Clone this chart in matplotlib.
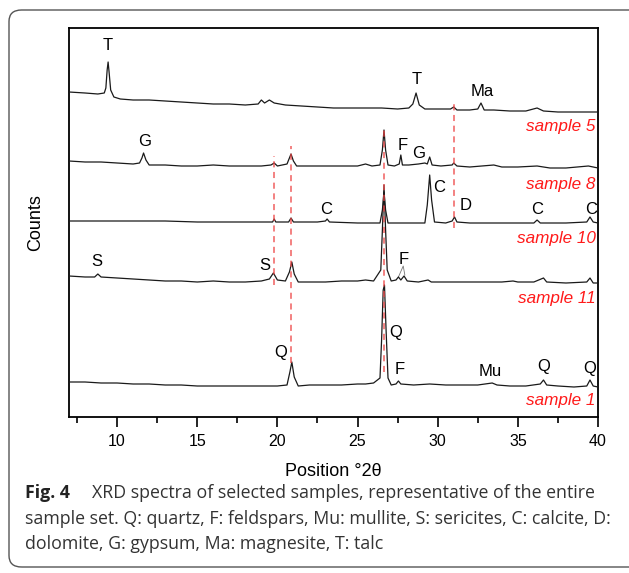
import matplotlib; matplotlib.use("Agg")
import matplotlib.pyplot as plt
from matplotlib.patches import FancyBboxPatch
from matplotlib.ticker import MultipleLocator
plt.rcParams.update({"font.family": ["Liberation Sans", "DejaVu Sans"], "font.size": 11})

# traces: 2theta vs stacked counts (arbitrary units)
s5_2theta = [7.0, 8.0, 8.8, 9.2, 9.3, 9.38, 9.44, 9.5, 9.6, 9.8, 10.2, 11, 12, 13, 14, 15, 16, 17, 18, 18.8,
             19.0, 19.2, 19.5, 19.8, 20.5, 21.5, 22.5, 23.5, 24.5, 25.5, 26.5, 27.5, 28.2, 28.45, 28.65, 28.85,
             29.2, 30, 30.8, 31.0, 31.2, 32, 32.5, 32.7, 32.9, 33.5, 34.5, 35.5, 36.2, 36.6, 37.5, 38.5, 40]
s5_counts = [3250, 3240, 3230, 3240, 3290, 3470, 3550, 3450, 3270, 3200, 3180, 3170, 3170, 3160, 3150, 3140,
             3130, 3130, 3120, 3130, 3170, 3140, 3170, 3140, 3120, 3110, 3100, 3090, 3090, 3090, 3090, 3080,
             3090, 3130, 3240, 3120, 3080, 3080, 3080, 3100, 3070, 3070, 3080, 3140, 3070, 3070, 3060, 3060,
             3090, 3060, 3050, 3050, 3050]

s8_2theta = [7, 8, 9, 10, 11, 11.4, 11.55, 11.65, 11.8, 12, 13, 14, 15, 16, 17, 18, 19, 19.6, 19.8, 20.0,
             20.6, 20.75, 20.85, 21.0, 21.2, 22, 23, 24, 25, 25.5, 25.9, 26.4, 26.55, 26.65, 26.75, 26.9, 27.3,
             27.6, 27.7, 27.8, 28.2, 28.8, 29.2, 29.35, 29.5, 29.65, 30.2, 30.9, 31.0, 31.2, 32, 33.5, 34, 35,
             36.2, 37, 38, 39.4, 40]
s8_counts = [2560, 2550, 2550, 2540, 2530, 2540, 2590, 2640, 2570, 2520, 2520, 2510, 2510, 2520, 2510, 2510,
             2510, 2520, 2540, 2510, 2530, 2590, 2630, 2560, 2510, 2510, 2510, 2510, 2510, 2530, 2510, 2520,
             2670, 2870, 2670, 2520, 2510, 2530, 2620, 2520, 2520, 2530, 2540, 2530, 2600, 2520, 2510, 2520,
             2540, 2510, 2500, 2520, 2500, 2500, 2510, 2490, 2490, 2510, 2490]

s10_2theta = [7, 9, 11, 13, 15, 17, 19, 19.7, 19.8, 19.9, 20.7, 20.85, 21.0, 22.5, 23.0, 23.1, 23.25, 25,
              26.4, 26.55, 26.65, 26.75, 26.9, 28, 29.2, 29.35, 29.5, 29.62, 29.8, 30.5, 30.9, 31.05, 31.2, 32,
              34, 36.0, 36.2, 36.4, 37, 38, 39.3, 39.5, 39.7, 40]
s10_counts = [1960, 1960, 1960, 1960, 1950, 1950, 1950, 1950, 1980, 1950, 1950, 1990, 1950, 1950, 1960,
              1980, 1950, 1940, 1940, 2070, 2250, 2070, 1940, 1940, 1940, 2120, 2420, 2170, 1950, 1940,
              1960, 2000, 1950, 1940, 1940, 1940, 1970, 1940, 1940, 1940, 1950, 2000, 1950, 1940]

s11_2theta = [7, 8, 8.6, 8.8, 9.0, 10, 11, 12, 13, 14, 15, 16, 17, 18, 19, 19.5, 19.75, 20.0, 20.5, 20.75,
              20.9, 21.05, 21.3, 22, 23, 24, 25, 25.5, 26, 26.45, 26.55, 26.65, 26.75, 26.85, 27.1, 27.4,
              27.55, 27.7, 27.9, 28.1, 28.8, 29.4, 29.6, 30.5, 32, 34, 34.7, 35, 36, 36.6, 36.8, 38, 39.3,
              39.5, 39.7, 40]
s11_counts = [1410, 1400, 1400, 1430, 1400, 1390, 1380, 1370, 1360, 1360, 1350, 1360, 1350, 1350, 1360,
              1380, 1440, 1370, 1360, 1450, 1550, 1430, 1350, 1350, 1350, 1360, 1360, 1370, 1360, 1470,
              1870, 2320, 1870, 1470, 1360, 1370, 1400, 1370, 1410, 1360, 1350, 1370, 1350, 1350, 1350,
              1350, 1360, 1350, 1350, 1390, 1350, 1340, 1350, 1390, 1340, 1340]

s1_2theta = [7, 8, 9, 10, 11, 12, 13, 14, 15, 16, 17, 18, 19, 20, 20.6, 20.78, 20.9, 21.05, 21.3, 22, 23,
             24, 25, 25.5, 26, 26.4, 26.5, 26.6, 26.68, 26.78, 26.9, 27.1, 27.4, 27.55, 27.7, 28.5, 29.5,
             30.5, 31.5, 32.5, 33.4, 33.7, 34.5, 35.5, 36.4, 36.6, 36.8, 37.5, 38.5, 39.3, 39.5, 39.7, 40]
s1_counts = [350, 350, 340, 340, 330, 330, 320, 320, 310, 310, 310, 310, 310, 310, 320, 450, 550, 400, 310,
             320, 320, 320, 330, 330, 340, 390, 770, 1270, 1320, 870, 390, 320, 330, 360, 330, 320, 330, 320,
             320, 320, 340, 320, 310, 310, 330, 370, 320, 310, 300, 310, 370, 310, 300]

samples = ["sample 5", "sample 8", "sample 10", "sample 11", "sample 1"]
sample_label_y = [2910, 2330, 1790, 1190, 170]

# reference peaks (dashed red guides): position and vertical extent
guide_2theta = [19.8, 20.85, 26.65, 31.0]
guide_lo = [1320, 540, 450, 1890]
guide_hi = [2610, 2710, 2890, 3170]

# phase letters: text, 2theta, counts
phase_txt = ["T", "T", "Ma", "G", "F", "G", "C", "C", "D", "C", "C", "S", "S", "F", "Q", "Q", "F", "Mu", "Q", "Q"]
phase_x = [9.44, 28.69, 32.75, 11.69, 27.81, 28.81, 23.06, 30.06, 31.75, 36.19, 39.56, 8.75, 19.19, 27.88,
           27.38, 20.19, 27.63, 33.25, 36.63, 39.5]
phase_y = [3720, 3370, 3260, 2760, 2720, 2630, 2080, 2300, 2120, 2080, 2080, 1550, 1520, 1580, 840, 650,
           470, 460, 500, 490]

fig = plt.figure(figsize=(6.29, 5.73), dpi=100)
fig.patches.append(FancyBboxPatch((9/629, 6/573), 640/629, 557/573, boxstyle="round,pad=0,rounding_size=0.02",
                                  transform=fig.transFigure, fc="none", ec="#555555", lw=1.0, clip_on=False))
ax = fig.add_axes([69/629, 1-417/573, 529/629, 389/573])

for xs, ys in [(s5_2theta, s5_counts), (s8_2theta, s8_counts), (s10_2theta, s10_counts),
               (s11_2theta, s11_counts), (s1_2theta, s1_counts)]:
    ax.plot(xs, ys, color="#1a1a1a", lw=0.9, zorder=3)

for gx, lo, hi in zip(guide_2theta, guide_lo, guide_hi):
    ax.plot([gx, gx], [lo, hi], ls=(0, (4, 3)), color="#ee4444", lw=1.1, alpha=0.85, zorder=4)

for t, x, y in zip(phase_txt, phase_x, phase_y):
    ax.text(x, y, t, ha="center", va="center", fontsize=12)
# two feldspar peaks in sample 11 share one letter
ax.plot([27.55, 27.85, 27.95], [1400, 1510, 1420], color="#777777", lw=0.6)

for s, y in zip(samples, sample_label_y):
    ax.text(39.85, y, s, ha="right", va="center", color="#ff1a1a", style="italic", fontsize=12.3)

ax.set_xlim(7, 40)
ax.set_ylim(0, 3890)
ax.xaxis.set_major_locator(MultipleLocator(5))
ax.xaxis.set_minor_locator(MultipleLocator(2.5))
ax.tick_params(axis="x", which="major", length=7, width=1.2, labelsize=11.5, pad=5)
ax.tick_params(axis="x", which="minor", length=4, width=1.2)
ax.set_yticks([])
for sp in ax.spines.values():
    sp.set_linewidth(1.3)
ax.set_xlabel("Position °2θ", fontsize=13, labelpad=10)
ax.set_ylabel("Counts", fontsize=13, labelpad=18)

cap_font = ["Open Sans", "DejaVu Sans"]
fig.text(25/629, 1-493/573, "Fig. 4", fontsize=12.8, fontweight="bold", family=cap_font, va="center", color="#222222")
fig.text(92/629, 1-493/573, "XRD spectra of selected samples, representative of the entire",
         fontsize=12.8, family=cap_font, va="center", color="#333333")
fig.text(25/629, 1-519/573, "sample set. Q: quartz, F: feldspars, Mu: mullite, S: sericites, C: calcite, D:",
         fontsize=12.8, family=cap_font, va="center", color="#333333")
fig.text(25/629, 1-544/573, "dolomite, G: gypsum, Ma: magnesite, T: talc",
         fontsize=12.8, family=cap_font, va="center", color="#333333")

fig.savefig("out.png", dpi=100)
